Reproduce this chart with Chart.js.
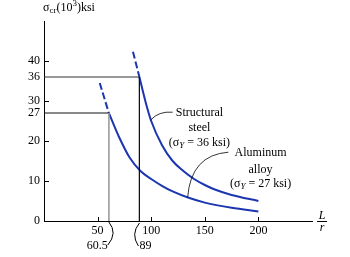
<!DOCTYPE html>
<html>
<head>
<meta charset="utf-8">
<script src="https://cdn.jsdelivr.net/npm/chart.js@4.4.0/dist/chart.umd.min.js"></script>
<style>
  html, body { margin: 0; padding: 0; background: #fff; }
  canvas { display: block; }
</style>
</head>
<body>
<canvas id="chart" width="350" height="257"></canvas>
<script>
// critical stress (ksi) vs slenderness ratio L/r
const steelLR = [89, 95, 100, 110, 120, 130, 140, 150, 160, 175, 200];
const steelStress = [36, 29.5, 25, 19, 15, 12.5, 10.5, 9, 7.8, 6.5, 5];
const steelDashLR = [83, 89];
const steelDashStress = [42.3, 36];

const alloyLR = [60.5, 70, 80, 90, 100, 110, 120, 135, 150, 175, 200];
const alloyStress = [27, 21, 15.8, 12.5, 10.5, 8.8, 7.4, 5.8, 4.6, 3.3, 2.4];
const alloyDashLR = [52, 60.5];
const alloyDashStress = [34.5, 27];

// where each curve meets its yield stress
const yieldLR = [60.5, 89];
const yieldStress = [27, 36];

const yTicks = [0, 10, 20, 27, 30, 36, 40];
const xTicks = [50, 100, 150, 200];

const BLUE = '#1c36b0';
const FONT = '"Liberation Serif", "DejaVu Serif", serif';

const pts = (xs, ys) => xs.map((v, i) => ({ x: v, y: ys[i] }));

const limitPath = (i) => [
  { x: 0, y: yieldStress[i] },
  { x: yieldLR[i], y: yieldStress[i] },
  { x: yieldLR[i], y: 0 }
];

// draws a row of text pieces (sub/sup/italic) starting at px, centred on py
function rich(ctx, parts, px, py, align) {
  const fontOf = (p) => (p.italic ? 'italic ' : '') + (p.sub || p.sup ? 9 : 12) + 'px ' + FONT;
  let w = 0;
  parts.forEach(p => { ctx.font = fontOf(p); w += ctx.measureText(p.t).width; });
  let cx = align === 'center' ? px - w / 2 : px;
  ctx.textAlign = 'left';
  ctx.textBaseline = 'middle';
  parts.forEach(p => {
    ctx.font = fontOf(p);
    const dy = p.sub ? 3 : p.sup ? -4 : 0;
    ctx.fillText(p.t, cx, py + dy);
    cx += ctx.measureText(p.t).width;
  });
}

const notes = {
  id: 'notes',
  afterDraw(chart) {
    const { ctx, scales: { x, y } } = chart;
    ctx.save();
    ctx.fillStyle = '#000';
    ctx.strokeStyle = '#000';
    ctx.lineWidth = 1;

    // inward tick marks
    ctx.beginPath();
    yTicks.filter(v => v > 0 && !yieldStress.includes(v)).forEach(v => {
      const py = Math.round(y.getPixelForValue(v)) + 0.5;
      ctx.moveTo(x.left, py);
      ctx.lineTo(x.left + 5, py);
    });
    xTicks.forEach(v => {
      const px = Math.round(x.getPixelForValue(v)) + 0.5;
      ctx.moveTo(px, y.bottom);
      ctx.lineTo(px, y.bottom - 4);
    });
    ctx.stroke();

    // brackets under the yield limits
    const b = y.bottom;
    const p1 = x.getPixelForValue(yieldLR[0]);
    const p2 = x.getPixelForValue(yieldLR[1]);
    ctx.beginPath();
    ctx.moveTo(p1, b + 1);
    ctx.quadraticCurveTo(p1 + 9, b + 12, p1 - 1, b + 24);
    ctx.moveTo(p2, b + 2);
    ctx.quadraticCurveTo(p2 - 9, b + 13, p2 - 1, b + 25);
    ctx.stroke();
    ctx.font = '12px ' + FONT;
    ctx.textBaseline = 'middle';
    ctx.textAlign = 'right';
    ctx.fillText(String(yieldLR[0]), p1 - 1, b + 25);
    ctx.textAlign = 'left';
    ctx.fillText(String(yieldLR[1]), p2, b + 25);

    // axis titles
    rich(ctx, [{ t: 'σ' }, { t: 'cr', sub: true }, { t: '(10' }, { t: '3', sup: true }, { t: ')ksi' }],
      x.left - 1, y.top - 13, 'left');
    const lx = x.right + 10;
    ctx.font = 'italic 12px ' + FONT;
    ctx.textAlign = 'center';
    ctx.fillText('L', lx, b - 5);
    ctx.fillText('r', lx, b + 7);
    ctx.beginPath();
    ctx.moveTo(lx - 5, b + 0.5);
    ctx.lineTo(lx + 5, b + 0.5);
    ctx.stroke();

    // curve labels
    const sx = x.getPixelForValue(145);
    rich(ctx, [{ t: 'Structural' }], sx, y.getPixelForValue(27), 'center');
    rich(ctx, [{ t: 'steel' }], sx, y.getPixelForValue(23.25), 'center');
    rich(ctx, [{ t: '(σ' }, { t: 'Y', sub: true, italic: true }, { t: ' = 36 ksi)' }], sx, y.getPixelForValue(19.5), 'center');
    const ax = x.getPixelForValue(202);
    rich(ctx, [{ t: 'Aluminum' }], ax, y.getPixelForValue(17), 'center');
    rich(ctx, [{ t: 'alloy' }], ax, y.getPixelForValue(12.75), 'center');
    rich(ctx, [{ t: '(σ' }, { t: 'Y', sub: true, italic: true }, { t: ' = 27 ksi)' }], ax, y.getPixelForValue(9.25), 'center');

    // leader lines
    ctx.lineWidth = 0.8;
    ctx.beginPath();
    ctx.moveTo(x.getPixelForValue(99.5), y.getPixelForValue(25.25));
    ctx.quadraticCurveTo(x.getPixelForValue(107), y.getPixelForValue(27.5), x.getPixelForValue(120), y.getPixelForValue(27.2));
    ctx.moveTo(x.getPixelForValue(172), y.getPixelForValue(17.2));
    ctx.quadraticCurveTo(x.getPixelForValue(137), y.getPixelForValue(16.5), x.getPixelForValue(134), y.getPixelForValue(5.9));
    ctx.stroke();
    ctx.restore();
  }
};

const axisFont = { family: FONT, size: 12 };

new Chart(document.getElementById('chart'), {
  type: 'line',
  data: {
    datasets: [
      {
        data: limitPath(1),
        borderWidth: 1,
        pointRadius: 0,
        segment: { borderColor: (c) => (c.p0DataIndex === 1 ? '#111' : '#333') }
      },
      {
        data: limitPath(0),
        borderWidth: 1,
        pointRadius: 0,
        segment: { borderColor: (c) => (c.p0DataIndex === 1 ? '#a0a0a0' : '#111') }
      },
      {
        data: pts(steelLR, steelStress),
        borderColor: BLUE,
        borderWidth: 2,
        pointRadius: 0,
        cubicInterpolationMode: 'monotone'
      },
      {
        data: pts(steelDashLR, steelDashStress),
        borderColor: BLUE,
        borderWidth: 2,
        borderDash: [7, 3],
        pointRadius: 0
      },
      {
        data: pts(alloyLR, alloyStress),
        borderColor: BLUE,
        borderWidth: 2,
        pointRadius: 0,
        cubicInterpolationMode: 'monotone'
      },
      {
        data: pts(alloyDashLR, alloyDashStress),
        borderColor: BLUE,
        borderWidth: 2,
        borderDash: [7, 3],
        pointRadius: 0
      }
    ]
  },
  options: {
    responsive: false,
    animation: false,
    events: [],
    layout: { padding: { top: 21, right: 38, left: 0, bottom: 0 } },
    plugins: { legend: { display: false }, tooltip: { enabled: false } },
    scales: {
      x: {
        type: 'linear',
        min: 0,
        max: 250,
        afterBuildTicks: (s) => { s.ticks = xTicks.map(v => ({ value: v })); },
        afterFit: (s) => { s.height = 36; },
        grid: { display: false, drawTicks: false },
        border: { color: '#000', width: 1 },
        ticks: { autoSkip: false, maxRotation: 0, padding: 3, color: '#000', font: axisFont }
      },
      y: {
        type: 'linear',
        min: 0,
        max: 50,
        afterBuildTicks: (s) => { s.ticks = yTicks.map(v => ({ value: v })); },
        afterFit: (s) => { s.width = 44; },
        grid: { display: false, drawTicks: false },
        border: { color: '#000', width: 1 },
        ticks: { autoSkip: false, padding: 4, color: '#000', font: axisFont }
      }
    }
  },
  plugins: [notes]
});
</script>
</body>
</html>
